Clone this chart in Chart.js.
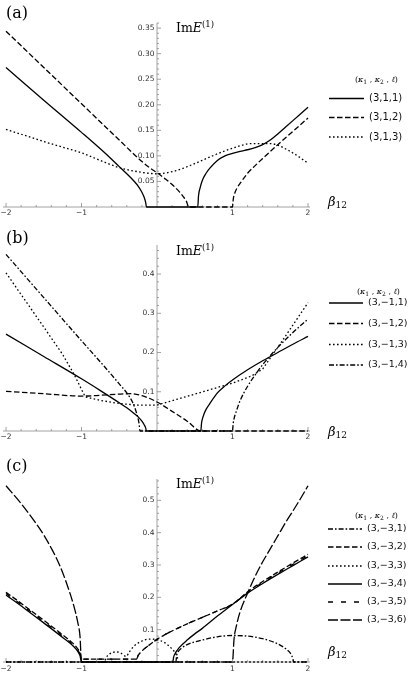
<!DOCTYPE html>
<html><head><meta charset="utf-8">
<script src="https://cdn.jsdelivr.net/npm/chart.js@4/dist/chart.umd.min.js"></script>
<style>
html,body{margin:0;padding:0;background:#fff;}
body{width:408px;height:674px;position:relative;overflow:hidden;}
canvas{position:absolute;left:0;}
</style></head><body>
<canvas id="ca" style="top:0px"></canvas>
<canvas id="cb" style="top:222px"></canvas>
<canvas id="cc" style="top:444px"></canvas>
<script>
// ---------------- shared tick labels ----------------
const xTickValues = [-2, -1, 1, 2];
const xTickLabels = ['−2', '−1', '1', '2'];

// ---------------- panel (a) ----------------
const aYTicks  = [0.05, 0.10, 0.15, 0.20, 0.25, 0.30, 0.35];
const aYLabels = ['0.05', '0.10', '0.15', '0.20', '0.25', '0.30', '0.35'];
const aLabels  = ['(3,1,1)', '(3,1,2)', '(3,1,3)'];
const a1x = [-2,-1.5,-1,-0.7,-0.5,-0.4,-0.3,-0.25,-0.2,-0.17,-0.15,-0.14,0.54,0.55,0.57,0.6,0.65,0.7,0.8,0.9,1.0,1.1,1.2,1.3,1.4,1.5,1.6,1.7,1.8,1.9,2];
const a1y = [0.273,0.209,0.146,0.107,0.079,0.065,0.05,0.041,0.029,0.019,0.009,0,0,0.022,0.037,0.052,0.066,0.076,0.091,0.1,0.105,0.109,0.112,0.116,0.122,0.131,0.143,0.156,0.169,0.182,0.195];
const a2x = [-2,-1.5,-1,-0.5,-0.2,-0.1,0,0.1,0.2,0.3,0.35,0.39,0.42,1.0,1.01,1.03,1.06,1.1,1.2,1.3,1.4,1.6,1.8,2];
const a2y = [0.344,0.273,0.202,0.131,0.089,0.077,0.067,0.056,0.044,0.029,0.02,0.011,0,0,0.015,0.027,0.037,0.046,0.066,0.081,0.095,0.122,0.148,0.174];
const a3x = [-2,-1.75,-1.5,-1.25,-1,-0.75,-0.5,-0.25,0,0.25,0.5,0.75,1,1.25,1.5,1.75,2];
const a3y = [0.152,0.14,0.128,0.117,0.106,0.091,0.077,0.069,0.065,0.071,0.085,0.101,0.115,0.124,0.124,0.11,0.086];

// ---------------- panel (b) ----------------
const bYTicks  = [0.1, 0.2, 0.3, 0.4];
const bYLabels = ['0.1', '0.2', '0.3', '0.4'];
const bLabels  = ['(3,−1,1)', '(3,−1,2)', '(3,−1,3)', '(3,−1,4)'];
const b1x = [-2,-1.5,-1,-0.75,-0.5,-0.4,-0.3,-0.25,-0.2,-0.17,-0.15,-0.14,0.58,0.59,0.6,0.62,0.65,0.7,0.8,0.9,1.0,1.2,1.4,1.6,1.8,2];
const b1y = [0.247,0.19,0.133,0.103,0.072,0.059,0.044,0.036,0.025,0.016,0.008,0,0,0.02,0.03,0.042,0.055,0.07,0.097,0.115,0.13,0.156,0.179,0.2,0.221,0.241];
const b2x = [-2,-1.5,-1,-0.75,-0.5,-0.35,-0.2,0,0.2,0.4,0.58,2];
const b2y = [0.101,0.095,0.089,0.091,0.094,0.095,0.09,0.074,0.05,0.025,0,0];
const b3x = [-2,-1.5,-1.25,-1.1,-1,-0.95,-0.75,-0.5,-0.25,0,0.25,0.5,0.75,1,1.25,1.4,1.5,1.6,1.8,2];
const b3y = [0.403,0.265,0.195,0.145,0.106,0.087,0.078,0.07,0.066,0.066,0.08,0.094,0.108,0.122,0.14,0.158,0.186,0.213,0.27,0.327];
const b4x = [-2,-1.5,-1,-0.7,-0.5,-0.4,-0.32,-0.27,-0.24,-0.225,1.0,1.01,1.02,1.05,1.1,1.2,1.3,1.4,1.5,1.6,1.8,2];
const b4y = [0.45,0.34,0.23,0.165,0.12,0.097,0.072,0.045,0.022,0,0,0.02,0.031,0.05,0.077,0.114,0.143,0.169,0.192,0.213,0.251,0.285];

// ---------------- panel (c) ----------------
const cYTicks  = [0.1, 0.2, 0.3, 0.4, 0.5];
const cYLabels = ['0.1', '0.2', '0.3', '0.4', '0.5'];
const cLabels  = ['(3,−3,1)', '(3,−3,2)', '(3,−3,3)', '(3,−3,4)', '(3,−3,5)', '(3,−3,6)'];
const c1x = [-2,0.25,0.26,0.28,0.32,0.4,0.6,0.8,1.0,1.2,1.4,1.6,1.7,1.75,1.78,1.8,1.81,2];
const c1y = [0,0,0.02,0.032,0.042,0.054,0.068,0.078,0.082,0.08,0.072,0.056,0.042,0.032,0.022,0.01,0,0];
const c2x = [-2,-1.75,-1.5,-1.25,-1.1,-1.05,-1.02,-1,-0.27,-0.25,-0.2,-0.1,0,0.1,0.2,0.4,0.6,0.8,1.0,1.2,1.4,1.6,1.8,2];
const c2y = [0.216,0.173,0.129,0.084,0.055,0.041,0.028,0.009,0.009,0.02,0.034,0.053,0.07,0.084,0.096,0.118,0.138,0.158,0.179,0.217,0.249,0.278,0.306,0.333];
const c3x = [-2,-0.7,-0.67,-0.62,-0.55,-0.5,-0.45,-0.41,-0.37,-0.3,-0.2,-0.1,0,0.1,0.2,0.25,0.27,0.28,2];
const c3y = [0,0,0.015,0.026,0.031,0.03,0.023,0.017,0.03,0.05,0.065,0.071,0.069,0.06,0.04,0.025,0.014,0,0];
const c4x = [-2,-1.75,-1.5,-1.25,-1.1,-1.05,-1.02,-1,0.21,0.22,0.24,0.27,0.3,0.4,0.5,0.6,0.8,1.0,1.2,1.4,1.6,1.8,2];
const c4y = [0.207,0.165,0.121,0.076,0.047,0.033,0.02,0,0,0.015,0.026,0.037,0.046,0.068,0.087,0.104,0.142,0.178,0.213,0.243,0.271,0.298,0.325];
const c5x = [-2,-1.75,-1.5,-1.25,-1.1,-1.05,-1.02,-1,-0.27,-0.25,-0.2,-0.1,0,0.1,0.2,0.4,0.6,0.8,1.0,1.2,1.4,1.6,1.8,2];
const c5y = [0.212,0.169,0.125,0.08,0.051,0.037,0.024,0.009,0.009,0.02,0.034,0.053,0.07,0.084,0.096,0.118,0.138,0.158,0.178,0.215,0.246,0.275,0.302,0.329];
const c6x = [-2,-1.8,-1.6,-1.5,-1.4,-1.3,-1.2,-1.1,-1.05,-1.02,-1,1,1.02,1.05,1.1,1.2,1.3,1.4,1.5,1.6,1.7,1.8,1.9,2];
const c6y = [0.545,0.49,0.428,0.393,0.352,0.305,0.245,0.172,0.123,0.08,0,0,0.07,0.11,0.155,0.213,0.265,0.31,0.35,0.39,0.43,0.467,0.505,0.545];

// ---------------- styles ----------------
const DASH = {
  solid: [], dashed: [5.5, 2.5], dotted: [1.6, 2.4],
  dashdot: [5, 2, 1.6, 2], longdash: [10, 2.5], sparse: [5, 8]
};
const AXIS_COLOR = '#8a8a8a';
const TEXT_COLOR = '#333';
const SERIF = "'DejaVu Serif', 'Liberation Serif', serif";
const SANS = "'DejaVu Sans', 'Liberation Sans', sans-serif";

function rich(ctx, x, y, parts) {
  ctx.textAlign = 'left';
  ctx.textBaseline = 'alphabetic';
  for (const p of parts) {
    ctx.font = p.font;
    ctx.fillText(p.t, x, y + (p.dy || 0));
    x += ctx.measureText(p.t).width;
  }
  return x;
}

const decoPlugin = {
  id: 'deco',
  beforeDatasetsDraw(chart) {
    const o = chart.options.plugins.deco;
    const ctx = chart.ctx, xs = chart.scales.x, ys = chart.scales.y;
    const ca = chart.chartArea;
    const y0 = ys.getPixelForValue(0), x0 = xs.getPixelForValue(0);
    ctx.save();
    ctx.strokeStyle = AXIS_COLOR;
    ctx.lineWidth = 0.8;
    ctx.setLineDash([]);
    ctx.beginPath();
    ctx.moveTo(ca.left - 3, y0); ctx.lineTo(ca.right + 2, y0);
    ctx.moveTo(x0, y0); ctx.lineTo(x0, ca.top);
    for (let i = -10; i <= 10; i++) {
      const v = i * 0.2;
      if (i === 0) continue;
      const px = xs.getPixelForValue(v);
      const len = (i % 5 === 0) ? 4 : 2;
      ctx.moveTo(px, y0); ctx.lineTo(px, y0 - len);
    }
    const nMin = Math.floor(o.yMax / o.yMinor + 1e-9);
    for (let i = 1; i <= nMin; i++) {
      const v = i * o.yMinor;
      const r = v / o.yMajor;
      const major = Math.abs(r - Math.round(r)) < 1e-6;
      const py = ys.getPixelForValue(v);
      ctx.moveTo(x0, py); ctx.lineTo(x0 + (major ? 4 : 2), py);
    }
    ctx.stroke();
    ctx.restore();
  },
  afterDraw(chart) {
    const o = chart.options.plugins.deco;
    const ctx = chart.ctx, xs = chart.scales.x, ys = chart.scales.y;
    const y0 = ys.getPixelForValue(0), x0 = xs.getPixelForValue(0);
    ctx.save();
    ctx.fillStyle = TEXT_COLOR;
    ctx.font = '7.5px ' + SANS;
    ctx.textAlign = 'center'; ctx.textBaseline = 'middle';
    xTickValues.forEach((v, i) => ctx.fillText(xTickLabels[i], xs.getPixelForValue(v), y0 + o.xLabOff));
    ctx.textAlign = 'right';
    o.yTicks.forEach((v, i) => ctx.fillText(o.yLabels[i], x0 - 2.5, ys.getPixelForValue(v)));
    ctx.fillStyle = '#000';
    ctx.font = '16px ' + SERIF;
    ctx.textAlign = 'left'; ctx.textBaseline = 'alphabetic';
    ctx.fillText(o.panel, 6, o.panelY);
    rich(ctx, 176, o.imY, [
      {t: 'Im', font: '12.5px ' + SERIF},
      {t: 'E', font: 'italic 12.5px ' + SERIF},
      {t: '(1)', font: '8.5px ' + SERIF, dy: -5.5}
    ]);
    rich(ctx, 328, o.betaY, [
      {t: 'β', font: 'italic 13px ' + SERIF},
      {t: '12', font: '9px ' + SERIF, dy: 2}
    ]);
    const tf = '8px ' + SERIF, tfi = 'italic 8px ' + SERIF, sf = '6px ' + SERIF;
    rich(ctx, o.legTitleX, o.legTitleY, [
      {t: '(', font: tf}, {t: 'κ', font: tfi}, {t: '1', font: sf, dy: 1.5},
      {t: ' , ', font: tf}, {t: 'κ', font: tfi}, {t: '2', font: sf, dy: 1.5},
      {t: ' , ', font: tf}, {t: 'ℓ', font: tfi}, {t: ')', font: tf}
    ]);
    chart.data.datasets.forEach((ds, i) => {
      const y = o.legRows[i];
      ctx.strokeStyle = '#000';
      ctx.lineWidth = 1.3;
      ctx.setLineDash(ds.borderDash);
      ctx.beginPath();
      ctx.moveTo(o.legX1, y); ctx.lineTo(o.legX2, y);
      ctx.stroke();
      ctx.setLineDash([]);
      ctx.font = o.legFont + 'px ' + SANS;
      ctx.textAlign = 'left'; ctx.textBaseline = 'middle';
      ctx.fillStyle = '#111';
      ctx.fillText(ds.label, o.legX2 + 5, y);
    });
    ctx.restore();
  }
};

function makePanel(id, h, padTop, padBottom, yMax, series, deco) {
  const cv = document.getElementById(id);
  cv.width = 408; cv.height = h;
  cv.style.width = '408px'; cv.style.height = h + 'px';
  return new Chart(cv, {
    type: 'scatter',
    data: {
      datasets: series.map(s => ({
        label: s.label,
        data: s.x.map((x, i) => ({x: x, y: s.y[i]})),
        showLine: true,
        borderColor: '#000',
        borderWidth: 1.3,
        borderDash: DASH[s.style],
        borderCapStyle: 'butt',
        pointRadius: 0,
        pointHoverRadius: 0,
        fill: false,
        tension: 0,
        cubicInterpolationMode: s.linear ? 'default' : 'monotone',
        clip: false
      }))
    },
    options: {
      responsive: false,
      animation: false,
      devicePixelRatio: 1,
      events: [],
      layout: {padding: {left: 6, right: 100, top: padTop, bottom: padBottom}},
      scales: {
        x: {type: 'linear', min: -2, max: 2, display: false},
        y: {type: 'linear', min: 0, max: yMax, display: false}
      },
      plugins: {legend: {display: false}, tooltip: {enabled: false}, deco: deco}
    },
    plugins: [decoPlugin]
  });
}

makePanel('ca', 222, 23, 15, 0.36, [
  {label: aLabels[0], x: a1x, y: a1y, style: 'solid'},
  {label: aLabels[1], x: a2x, y: a2y, style: 'dashed'},
  {label: aLabels[2], x: a3x, y: a3y, style: 'dotted'}
], {
  yMax: 0.36, yMajor: 0.05, yMinor: 0.01, yTicks: aYTicks, yLabels: aYLabels,
  xLabOff: 6.5, panel: '(a)', panelY: 17.7, imY: 32, betaY: 206,
  legTitleX: 355, legTitleY: 82, legRows: [98.5, 117.5, 137], legX1: 329, legX2: 364, legFont: 10
});

makePanel('cb', 222, 23, 13, 0.474, [
  {label: bLabels[0], x: b1x, y: b1y, style: 'solid'},
  {label: bLabels[1], x: b2x, y: b2y, style: 'dashed'},
  {label: bLabels[2], x: b3x, y: b3y, style: 'dotted', linear: true},
  {label: bLabels[3], x: b4x, y: b4y, style: 'dashdot'}
], {
  yMax: 0.474, yMajor: 0.1, yMinor: 0.02, yTicks: bYTicks, yLabels: bYLabels,
  xLabOff: 6.5, panel: '(b)', panelY: 20.7, imY: 33, betaY: 214,
  legTitleX: 357, legTitleY: 72, legRows: [81, 101.5, 122.5, 143], legX1: 329, legX2: 363, legFont: 9.5
});

makePanel('cc', 230, 35, 12, 0.566, [
  {label: cLabels[0], x: c1x, y: c1y, style: 'dashdot'},
  {label: cLabels[1], x: c2x, y: c2y, style: 'dashed'},
  {label: cLabels[2], x: c3x, y: c3y, style: 'dotted'},
  {label: cLabels[3], x: c4x, y: c4y, style: 'solid'},
  {label: cLabels[4], x: c5x, y: c5y, style: 'sparse'},
  {label: cLabels[5], x: c6x, y: c6y, style: 'longdash'}
], {
  yMax: 0.566, yMajor: 0.1, yMinor: 0.02, yTicks: cYTicks, yLabels: cYLabels,
  xLabOff: 7, panel: '(c)', panelY: 26.7, imY: 44, betaY: 212,
  legTitleX: 355, legTitleY: 74, legRows: [85, 103, 122, 140, 158, 176], legX1: 328, legX2: 362, legFont: 9.5
});
</script>
</body></html>
